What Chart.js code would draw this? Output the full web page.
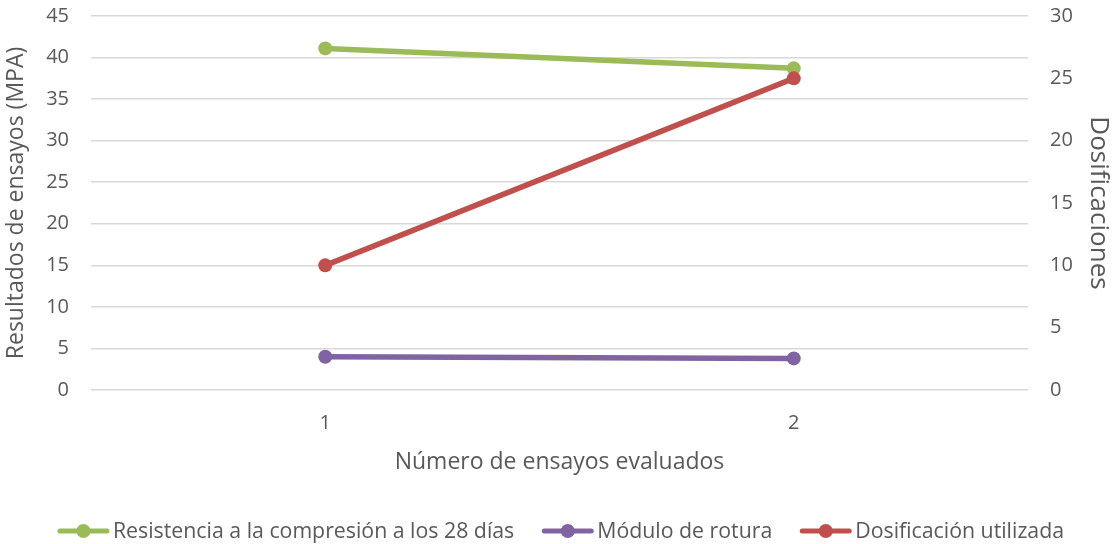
<!DOCTYPE html>
<html>
<head>
<meta charset="utf-8">
<script src="https://cdn.jsdelivr.net/npm/chart.js@4/dist/chart.umd.min.js"></script>
<style>
  html, body { margin: 0; padding: 0; background: #fff; }
  #wrap { width: 1115px; height: 544px; }
</style>
</head>
<body>
<div id="wrap"><canvas id="chart"></canvas></div>
<script>
// categorías y series
const categories = ['1', '2'];
const resistencia = [41.1, 38.7];
const modulo = [4.0, 3.8];
const dosificacion = [10, 25];
const leftMax = 45, leftStep = 5;
const rightMax = 30, rightStep = 5;

const FONT = '"Open Sans", sans-serif';
const GREY = '#595959';

function serie(label, data, color, axis, order) {
    return {
        label: label, data: data, yAxisID: axis, order: order,
        borderColor: color, backgroundColor: color,
        borderWidth: 5.5, pointRadius: 7, pointHoverRadius: 7,
        pointBackgroundColor: color, pointBorderWidth: 0,
        tension: 0, fill: false
    };
}

// leyenda propia: línea con punto + texto
const lineLegend = {
    id: 'lineLegend',
    afterDraw(chart) {
        const ctx = chart.ctx;
        const ds = chart.data.datasets;
        const markW = 51, gapText = 4, gapItem = 28, y = 531;
        ctx.save();
        ctx.font = '21.3px ' + FONT;
        const widths = ds.map(d => markW + gapText + ctx.measureText(d.label).width);
        const total = widths.reduce((a, b) => a + b, 0) + gapItem * (ds.length - 1);
        let x = 561 - total / 2;
        ds.forEach((d, i) => {
            ctx.strokeStyle = d.borderColor;
            ctx.fillStyle = d.borderColor;
            ctx.lineWidth = 5;
            ctx.lineCap = 'round';
            ctx.beginPath(); ctx.moveTo(x + 2, y); ctx.lineTo(x + markW - 2, y); ctx.stroke();
            ctx.beginPath(); ctx.arc(x + markW / 2, y, 7, 0, Math.PI * 2); ctx.fill();
            ctx.fillStyle = GREY;
            ctx.textBaseline = 'middle';
            ctx.textAlign = 'left';
            ctx.fillText(d.label, x + markW + gapText, y + 1);
            x += widths[i] + gapItem;
        });
        ctx.restore();
    }
};

function fixY(width) {
    return s => { s.width = width; s.paddingTop = 16; s.paddingBottom = 0; };
}

new Chart(document.getElementById('chart'), {
    type: 'line',
    data: {
        labels: categories,
        datasets: [
            serie('Resistencia a la compresión a los 28 días', resistencia, '#9BBB59', 'y', 1),
            serie('Módulo de rotura', modulo, '#8064A2', 'y', 2),
            serie('Dosificación utilizada', dosificacion, '#C0504D', 'y1', 0)
        ]
    },
    plugins: [lineLegend],
    options: {
        responsive: true,
        maintainAspectRatio: false,
        animation: false,
        layout: { padding: { top: 0, bottom: 68, left: 0, right: 0 } },
        plugins: {
            tooltip: { enabled: false },
            legend: { display: false }
        },
        scales: {
            x: {
                offset: true,
                grid: { display: false, drawTicks: false },
                border: { display: false },
                ticks: { color: GREY, font: { family: FONT, size: 20 }, padding: 21 },
                title: {
                    display: true, text: 'Número de ensayos evaluados',
                    color: GREY, font: { family: FONT, size: 23 }, padding: { top: 0, bottom: 0 }
                },
                afterFit: s => { s.height = 86; s.paddingLeft = 0; s.paddingRight = 0; }
            },
            y: {
                position: 'left',
                min: 0, max: leftMax,
                ticks: { stepSize: leftStep, color: GREY, font: { family: FONT, size: 20 }, padding: 22 },
                grid: { color: '#D9D9D9', lineWidth: 1.5, drawTicks: false },
                border: { display: false },
                title: {
                    display: true, text: 'Resultados de ensayos (MPA)',
                    color: GREY, font: { family: FONT, size: 23 }, padding: { top: 3, bottom: 0 }
                },
                afterFit: fixY(91)
            },
            y1: {
                position: 'right',
                min: 0, max: rightMax,
                ticks: { stepSize: rightStep, color: GREY, font: { family: FONT, size: 20 }, padding: 22 },
                grid: { display: false, drawTicks: false },
                border: { display: false },
                title: {
                    display: true, text: 'Dosificaciones',
                    color: GREY, font: { family: FONT, size: 26 }, padding: { top: 1, bottom: 0 }
                },
                afterFit: fixY(87)
            }
        }
    }
});
</script>
</body>
</html>
